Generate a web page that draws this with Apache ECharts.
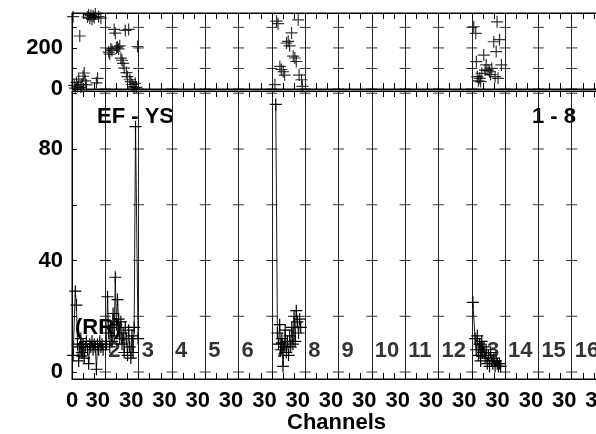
<!DOCTYPE html>
<html><head><meta charset="utf-8">
<script src="https://cdn.jsdelivr.net/npm/echarts@6/dist/echarts.min.js"></script>
<style>html,body{margin:0;padding:0;background:#fff}#c{width:596px;height:434px}</style>
</head><body><div id="c"></div>
<script>
// ---- axes / labels ----
const channelWidth = 30;
const channelCount = 16;
const channelLabels = ['1','2','3','4','5','6','7','8','9','10','11','12','13','14','15','16'];
const rrTicks = [0, 20, 40, 60, 80, 100];
const rrTickLabels = [0, 40, 80];
const topTicks = [0, 100, 200, 300];
const topTickLabels = [0, 200];

// ---- bottom panel (RR) : channel 1, 2, 7, 13 ----
const rrCh1Pos = [1, 3, 4, 5, 6, 7, 8, 9, 10, 11, 12, 13, 14, 15, 16, 17, 18, 19, 20, 21, 22, 23, 24, 25, 26, 27, 28];
const rrCh1Val = [6, 29, 24, 10, 4, 9, 12, 7, 10, 5, 9, 11, 8, 3, 10, 9, 11, 8, 10, 9, 1, 10, 8, 11, 9, 10, 8];
const rrCh2Pos = [1, 2, 3, 4, 5, 6, 7, 8, 9, 10, 11, 12, 13, 14, 15, 16, 17, 18, 19, 20, 21, 22, 23, 24, 25, 26, 27.2, 29.5];
const rrCh2Val = [10, 27, 14, 9, 16, 11, 21, 13, 34, 17, 26, 19, 12, 18, 10, 14, 7, 16, 12, 6, 15, 9, 5, 13, 7, 16, 88, 12];
const rrCh7Pos = [3.5, 5, 6, 7, 8, 9, 10, 11, 12, 13, 14, 15, 16, 17, 18, 19, 20, 21, 22, 23, 24, 25, 26];
const rrCh7Val = [96, 14, 10, 17, 8, 12, 2, 9, 15, 7, 11, 6, 13, 9, 16, 10, 20, 11, 22, 18, 14, 19, 16];
const rrCh13Pos = [1, 3, 4, 5, 6, 7, 8, 9, 10, 11, 12, 13, 14, 15, 16, 17, 18, 19, 20, 21, 22, 23, 24, 25, 26];
const rrCh13Val = [25, 12, 8, 13, 6, 10, 4, 11, 7, 9, 5, 8, 3, 6, 2, 7, 4, 3, 5, 2, 4, 3, 2, 3, 2];

// ---- top panel : channel 1, 2, 7, 13 ----
const topCh1Pos = [1, 2, 3, 4, 5, 6, 7, 8, 9, 10, 11, 12, 13, 14, 15, 16, 17, 18, 19, 20, 21, 22, 23, 24, 26];
const topCh1Val = [352, 18, 4, 32, 12, 48, 258, 8, 22, 62, 78, 40, 20, 350, 362, 345, 358, 340, 355, 348, 365, 30, 52, 352, 345];
const topCh2Pos = [3, 4, 5, 6, 8, 9, 10, 11, 12, 13, 14, 15, 16, 17, 18, 19, 20, 21, 22, 23, 24, 25, 26, 27, 28, 29];
const topCh2Val = [180, 170, 195, 188, 290, 272, 200, 205, 195, 210, 150, 140, 125, 102, 285, 80, 60, 290, 45, 35, 22, 12, 5, 28, 8, 207];
const topCh7Pos = [2.7, 4.2, 5.5, 7.2, 8.5, 10.2, 11.5, 13.2, 14.7, 16, 17.7, 19.2, 20.7, 22, 23.7, 24.5, 26.7, 27.5];
const topCh7Val = [21, 330, 318, 110, 95, 84, 68, 224, 232, 210, 273, 160, 151, 134, 337, 68, 45, 13];
const topCh13Pos = [1.8, 3.6, 4.2, 5, 6, 7.2, 8, 9, 10.8, 12, 13, 14.7, 16, 17, 18, 19.8, 21, 22, 22.8, 23.7, 25, 26.7];
const topCh13Val = [303, 271, 133, 60, 40, 52, 36, 76, 165, 92, 117, 92, 84, 70, 100, 230, 60, 182, 327, 52, 240, 117];

// ---- build ----
const FONT = "'Liberation Sans', Arial, Helvetica, sans-serif";
const PLUS = 'path://M0,10.8H24V13.2H0Z M10.8,0H13.2V24H10.8Z';
const xMax = channelWidth * channelCount;
function pts(ch, pos, val) { return pos.map((p, i) => [(ch - 1) * channelWidth + p, val[i]]); }

function xAx(gridIndex, position, showLabels) {
  return {
    type: 'value', gridIndex, position, min: 0, max: xMax, interval: channelWidth,
    axisLine: { show: true, onZero: false, lineStyle: { color: '#000', width: 1 } },
    axisTick: { show: true, inside: true, length: 6, lineStyle: { color: '#000' } },
    minorTick: { show: true, splitNumber: 3, length: 6, lineStyle: { color: '#000' } },
    splitLine: { show: position === 'bottom', lineStyle: { color: '#222', width: 1 } },
    axisLabel: showLabels ? {
      show: true, margin: 11, color: '#000', fontSize: 22, fontWeight: 'bold', fontFamily: FONT,
      formatter: v => v === 0 ? '{a|0}' : '{b|30}',
      rich: {
        a: { fontSize: 22, fontWeight: 'bold', fontFamily: FONT, color: '#000' },
        b: { fontSize: 22, fontWeight: 'bold', fontFamily: FONT, color: '#000', padding: [0, 15, 0, 0] }
      }
    } : { show: false }
  };
}

const tickMarksBottom = [];
const tickMarksTop = [];
for (let k = 1; k < channelCount; k++) {
  rrTicks.forEach(t => tickMarksBottom.push([k * channelWidth, t]));
  topTicks.forEach(t => tickMarksTop.push([k * channelWidth, t]));
}

const plusLine = (data) => ({
  type: 'line', xAxisIndex: 0, yAxisIndex: 0, data, symbol: PLUS, symbolSize: 12,
  showAllSymbol: true, clip: false, animation: false, silent: true,
  lineStyle: { color: '#000', width: 0.9 }, itemStyle: { color: '#000' }
});
const plusScatter = (data) => ({
  type: 'scatter', xAxisIndex: 2, yAxisIndex: 1, data, symbol: PLUS, symbolSize: 12,
  animation: false, silent: true, itemStyle: { color: '#000' }
});

const chart = echarts.init(document.getElementById('c'), null, { renderer: 'canvas' });
chart.setOption({
  backgroundColor: '#fff',
  animation: false,
  textStyle: { fontFamily: FONT },
  grid: [
    { left: 72, top: 91, width: 533, height: 288, outerBoundsMode: 'none', containLabel: false, show: true, borderColor: '#000', borderWidth: 1, backgroundColor: 'transparent' },
    { left: 72, top: 13, width: 533, height: 76, outerBoundsMode: 'none', containLabel: false, show: true, borderColor: '#000', borderWidth: 1, backgroundColor: 'transparent' }
  ],
  xAxis: [
    xAx(0, 'bottom', true),
    xAx(0, 'top', false),
    xAx(1, 'bottom', false),
    xAx(1, 'top', false)
  ],
  yAxis: [
    {
      type: 'value', gridIndex: 0, min: -2.5, max: 100.8,
      axisLine: { show: true, lineStyle: { color: '#000' } },
      axisTick: { show: true, inside: true, length: 5, customValues: rrTicks, lineStyle: { color: '#000' } },
      axisLabel: { show: true, customValues: rrTickLabels, margin: 9, color: '#000', fontSize: 22, fontWeight: 'bold', fontFamily: FONT },
      splitLine: { show: false }
    },
    {
      type: 'value', gridIndex: 1, min: 0, max: 370, interval: 100,
      axisLine: { show: true, lineStyle: { color: '#000' } },
      axisTick: { show: true, inside: true, length: 5, lineStyle: { color: '#000' } },
      axisLabel: { show: true, margin: 9, color: '#000', fontSize: 22, fontWeight: 'bold', fontFamily: FONT,
        formatter: v => topTickLabels.includes(v) ? String(v) : '' },
      splitLine: { show: false }
    }
  ],
  series: [
    { type: 'scatter', xAxisIndex: 0, yAxisIndex: 0, data: tickMarksBottom, symbol: 'rect', symbolSize: [11, 1], silent: true, itemStyle: { color: '#000' } },
    { type: 'scatter', xAxisIndex: 2, yAxisIndex: 1, data: tickMarksTop, symbol: 'rect', symbolSize: [11, 1], silent: true, itemStyle: { color: '#000' } },
    plusLine(pts(1, rrCh1Pos, rrCh1Val)),
    plusLine(pts(2, rrCh2Pos, rrCh2Val)),
    plusLine(pts(7, rrCh7Pos, rrCh7Val)),
    plusLine(pts(13, rrCh13Pos, rrCh13Val)),
    plusScatter(pts(1, topCh1Pos, topCh1Val)),
    plusScatter(pts(2, topCh2Pos, topCh2Val)),
    plusScatter(pts(7, topCh7Pos, topCh7Val)),
    plusScatter(pts(13, topCh13Pos, topCh13Val)),
    {
      type: 'scatter', xAxisIndex: 0, yAxisIndex: 0, symbolSize: 0, silent: true,
      data: channelLabels.map((l, i) => ({ name: l, value: [i * channelWidth, 7.4] })),
      label: { show: true, position: 'right', distance: 3, formatter: '{b}', color: '#000', fontSize: 22, fontWeight: 'bold', fontFamily: FONT }
    }
  ],
  graphic: [
    { type: 'text', left: 97, top: 106, style: { text: 'EF - YS', fill: '#000', font: 'bold 22px ' + FONT } },
    { type: 'text', left: 532, top: 106, style: { text: '1 - 8', fill: '#000', font: 'bold 22px ' + FONT } },
    { type: 'text', left: 75, top: 317, style: { text: '(RR)', fill: '#000', font: 'bold 22px ' + FONT } },
    { type: 'text', left: 287, top: 412, style: { text: 'Channels', fill: '#000', font: 'bold 22px ' + FONT } }
  ]
});
</script></body></html>
